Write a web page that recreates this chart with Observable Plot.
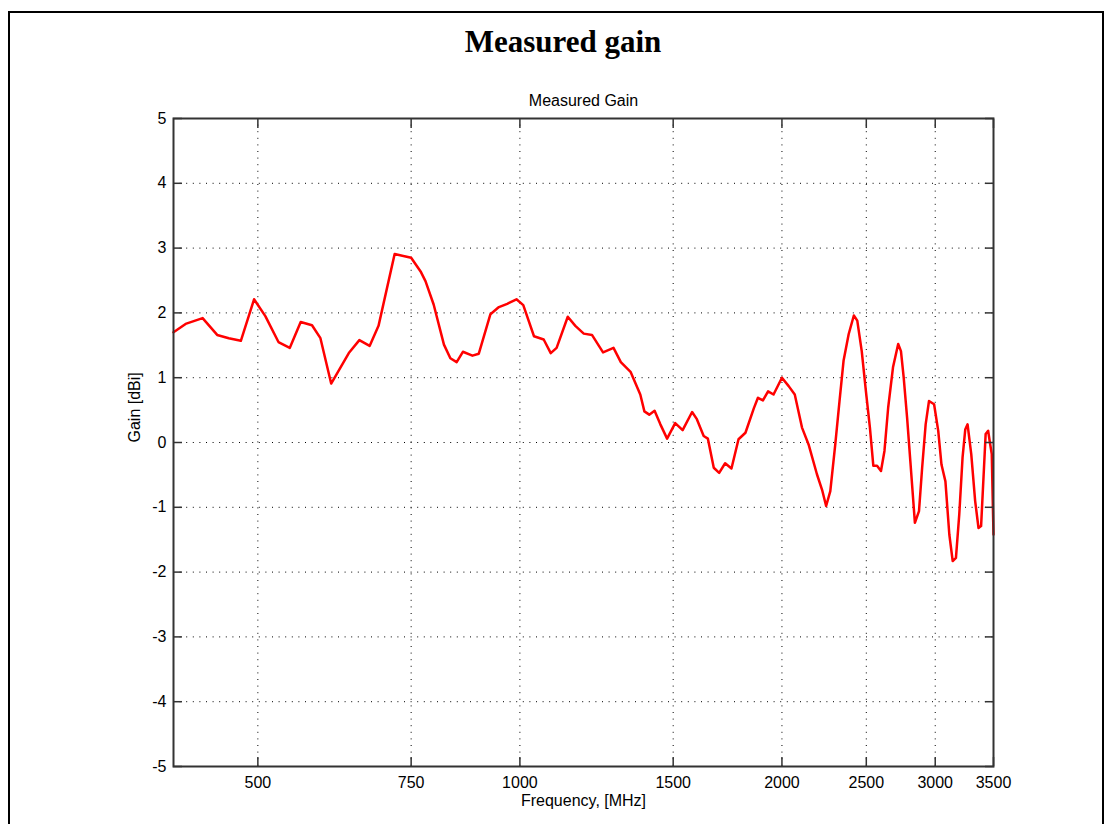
<!DOCTYPE html>
<html>
<head>
<meta charset="utf-8">
<script src="https://cdn.jsdelivr.net/npm/d3@7"></script>
<script src="https://cdn.jsdelivr.net/npm/@observablehq/plot@0.6"></script>
<style>
  html, body { margin: 0; padding: 0; background: #fff; overflow: hidden; width: 1108px; height: 824px; }
  #frame { position: absolute; left: 8px; top: 11px; width: 1096px; height: 840px; border: 2px solid #000; border-bottom: none; box-sizing: border-box; }
  #title { position: absolute; left: 263px; width: 600px; top: 26px; line-height: 31px; text-align: center;
           font-family: "Liberation Serif", "Times New Roman", serif; font-weight: bold; font-size: 31px; color: #000; }
  #chart { position: absolute; left: 0; top: 60px; }
</style>
</head>
<body>
<div id="frame"></div>
<div id="title">Measured gain</div>
<div id="chart"></div>
<script>
// Frequency [MHz]
const freqs = [400, 413, 432, 449, 463, 478, 495, 510, 528, 544, 560, 577, 590, 607, 636, 654, 672, 688, 718, 750,
  769, 779, 796, 818, 832, 846, 860, 882, 897, 925, 946, 967, 991, 1009, 1038, 1065, 1085, 1102, 1135, 1158,
  1184, 1210, 1246, 1281, 1306, 1340, 1375, 1390, 1408, 1428, 1450, 1476, 1508, 1538, 1577, 1597, 1626, 1644, 1670, 1694,
  1721, 1750, 1783, 1816, 1857, 1877, 1902, 1928, 1956, 2000, 2036, 2069, 2109, 2146, 2194, 2224, 2248, 2273, 2303, 2329,
  2354, 2386, 2419, 2441, 2470, 2497, 2524, 2547, 2572, 2599, 2623, 2649, 2683, 2720, 2740, 2760, 2785, 2809, 2843, 2874,
  2898, 2925, 2951, 2991, 3024, 3050, 3082, 3114, 3142, 3169, 3197, 3225, 3248, 3268, 3300, 3334, 3364, 3387, 3413, 3428,
  3451, 3465, 3484, 3493, 3500];
// Gain [dBi]
const gains = [1.70, 1.83, 1.92, 1.66, 1.61, 1.57, 2.21, 1.95, 1.55, 1.46, 1.86, 1.81, 1.61, 0.91, 1.38, 1.58, 1.49, 1.80, 2.91, 2.85,
  2.64, 2.49, 2.13, 1.51, 1.30, 1.24, 1.40, 1.34, 1.37, 1.98, 2.09, 2.14, 2.21, 2.12, 1.64, 1.59, 1.38, 1.46, 1.94, 1.80,
  1.68, 1.66, 1.39, 1.46, 1.24, 1.09, 0.74, 0.48, 0.43, 0.49, 0.28, 0.06, 0.30, 0.19, 0.47, 0.36, 0.10, 0.06, -0.39, -0.47,
  -0.32, -0.40, 0.05, 0.15, 0.53, 0.69, 0.65, 0.79, 0.74, 1.00, 0.87, 0.74, 0.23, -0.03, -0.49, -0.73, -0.98, -0.75, -0.03, 0.64,
  1.26, 1.67, 1.96, 1.88, 1.41, 0.80, 0.23, -0.36, -0.36, -0.44, -0.13, 0.54, 1.16, 1.52, 1.41, 1.00, 0.38, -0.29, -1.24, -1.06,
  -0.39, 0.28, 0.64, 0.59, 0.18, -0.34, -0.60, -1.42, -1.83, -1.78, -1.11, -0.23, 0.20, 0.28, -0.18, -0.90, -1.32, -1.29, -0.39, 0.13,
  0.18, 0.02, -0.18, -0.90, -1.42];
const xTicks = [500, 750, 1000, 1500, 2000, 2500, 3000, 3500];
const yTicks = [-5, -4, -3, -2, -1, 0, 1, 2, 3, 4, 5];
const xDomain = [400, 3500];
const yDomain = [-5, 5];
const subtitle = "Measured Gain";
const xLabel = "Frequency, [MHz]";
const yLabel = "Gain [dBi]";

const data = freqs.map((f, i) => ({f, g: gains[i]}));
const fmt = d => String(d);
const blank = () => "";
const gridStyle = {stroke: "#000", strokeOpacity: 1, strokeWidth: 1, strokeDasharray: "1,5.6"};

const chart = Plot.plot({
  width: 1108,
  height: 764,
  marginTop: 58,
  marginBottom: 58,
  marginLeft: 173,
  marginRight: 115,
  style: {fontFamily: "'Liberation Sans', Arial, sans-serif", fontSize: "16px", color: "#000", background: "transparent", overflow: "visible"},
  x: {type: "log", domain: xDomain},
  y: {type: "linear", domain: yDomain},
  marks: [
    Plot.gridX(xTicks, gridStyle),
    Plot.gridY(yTicks, gridStyle),
    Plot.line(data, {x: "f", y: "g", stroke: "#ff0000", strokeWidth: 2.5, strokeLinejoin: "round", strokeLinecap: "round"}),
    Plot.frame({stroke: "#333", strokeWidth: 2}),
    Plot.axisX(xTicks, {anchor: "bottom", tickSize: 0, tickPadding: 10, tickFormat: fmt, label: null}),
    Plot.axisX(xTicks, {anchor: "bottom", tickSize: -9, tickFormat: blank, label: null, stroke: "#333", strokeWidth: 1.5}),
    Plot.axisX(xTicks, {anchor: "top", tickSize: -9, tickFormat: blank, label: null, stroke: "#333", strokeWidth: 1.5}),
    Plot.axisY(yTicks, {anchor: "left", tickSize: 0, tickPadding: 7, tickFormat: fmt, label: null}),
    Plot.axisY(yTicks, {anchor: "left", tickSize: -9, tickFormat: blank, label: null, stroke: "#333", strokeWidth: 1.5}),
    Plot.axisY(yTicks, {anchor: "right", tickSize: -9, tickFormat: blank, label: null, stroke: "#333", strokeWidth: 1.5}),
    Plot.text([subtitle], {text: d => d, frameAnchor: "top", dy: -13, lineAnchor: "bottom", fontSize: 16}),
    Plot.text([yLabel], {text: d => d, frameAnchor: "left", rotate: -90, dx: -39, fontSize: 16}),
    Plot.text([xLabel], {text: d => d, frameAnchor: "bottom", dy: 39, fontSize: 16})
  ]
});
document.getElementById("chart").appendChild(chart);
</script>
</body>
</html>
